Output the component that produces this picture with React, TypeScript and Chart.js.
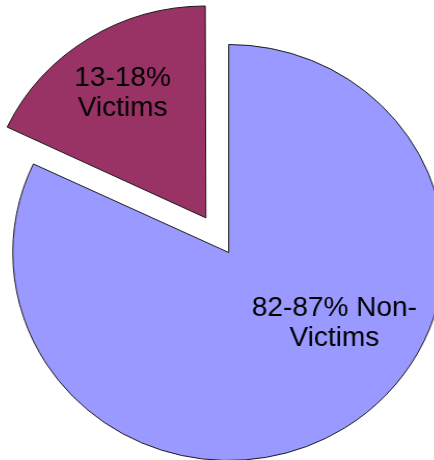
import React, { useEffect, useRef } from "react";
import { Chart, registerables } from "chart.js";

Chart.register(...registerables);

// ---- data ----
const categories = ["82-87% Non-Victims", "13-18% Victims"];
const labelLines = [
  ["82-87% Non-", "Victims"],
  ["13-18%", "Victims"],
];
const values = [82, 18];

// ---- styling / placement ----
const sliceColors = ["#9999FF", "#993366"];
const sliceOffsets = [0, 164];
const OFFSET_DIVISOR = 4; // Chart.js translates an arc by offset / 4
// label anchor per slice: angle from 12 o'clock (deg, clockwise) or null for mid-angle; fraction of radius
const labelPlace = [
  { angle: 124, frac: 0.59 },
  { angle: null as number | null, frac: 0.72 },
];
const FONT_SIZE = 27;
const LINE_HEIGHT = 30;

const labelPlugin = {
  id: "sliceLabels",
  afterDatasetsDraw(chart: any) {
    const meta = chart.getDatasetMeta(0);
    const ctx = chart.ctx;
    ctx.save();
    ctx.font = `${FONT_SIZE}px "Liberation Sans", Arial, sans-serif`;
    ctx.fillStyle = "#000";
    ctx.textAlign = "center";
    ctx.textBaseline = "alphabetic";
    meta.data.forEach((arc: any, i: number) => {
      const p = arc.getProps(["x", "y", "startAngle", "endAngle", "outerRadius"], true);
      const mid = (p.startAngle + p.endAngle) / 2;
      const off = (arc.options.offset || 0) / OFFSET_DIVISOR;
      const cx = p.x + Math.cos(mid) * off;
      const cy = p.y + Math.sin(mid) * off;
      const place = labelPlace[i];
      const a = place.angle == null ? mid : ((place.angle - 90) * Math.PI) / 180;
      const r = p.outerRadius * place.frac;
      const bx = cx + Math.cos(a) * r;
      const by = cy + Math.sin(a) * r;
      const lines = labelLines[i];
      lines.forEach((t, k) => {
        const lc = by + (k - (lines.length - 1) / 2) * LINE_HEIGHT;
        ctx.fillText(t, bx, lc + 0.358 * FONT_SIZE);
      });
    });
    ctx.restore();
  },
};

export default function App() {
  const ref = useRef<HTMLCanvasElement | null>(null);
  useEffect(() => {
    if (!ref.current) return;
    const chart = new Chart(ref.current, {
      type: "pie",
      data: {
        labels: categories,
        datasets: [
          {
            data: values,
            backgroundColor: sliceColors,
            borderColor: "#1a1a1a",
            borderWidth: 1,
            offset: sliceOffsets,
            hoverOffset: 0,
            clip: false as any,
          } as any,
        ],
      },
      options: {
        responsive: false,
        animation: false,
        devicePixelRatio: 1,
        events: [],
        radius: 208,
        layout: { padding: { left: 23.4, top: 45, right: 0, bottom: 0 } },
        plugins: {
          legend: { display: false },
          tooltip: { enabled: false },
          title: { display: false },
        },
      } as any,
      plugins: [labelPlugin],
    });
    return () => chart.destroy();
  }, []);

  return (
    <div
      style={{
        position: "fixed",
        left: 0,
        top: 0,
        width: 434,
        height: 460,
        overflow: "hidden",
        background: "#fff",
      }}
    >
      <canvas
        ref={ref}
        width={434}
        height={460}
        style={{ display: "block", transform: "scaleX(1.038)", transformOrigin: "228.7px 0px" }}
      />
    </div>
  );
}
